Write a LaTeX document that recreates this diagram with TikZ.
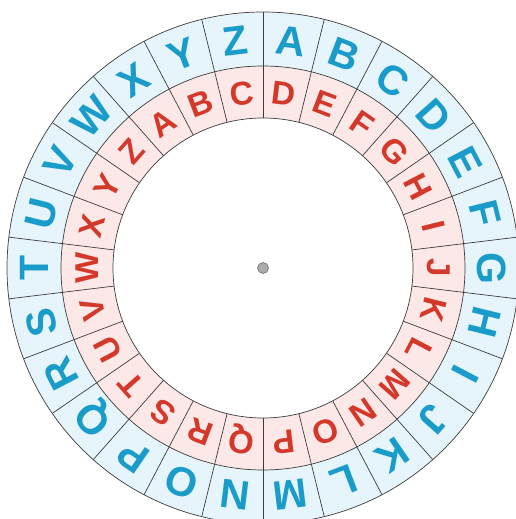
\documentclass[tikz,border=0pt]{standalone}
\usepackage{fontspec}
\setmainfont{Liberation Sans}
\definecolor{outerfill}{HTML}{E6F4FB}
\definecolor{innerfill}{HTML}{FCE8E6}
\definecolor{letterblue}{HTML}{1A9CCA}
\definecolor{letterred}{HTML}{D4382A}
\definecolor{ringgray}{HTML}{3C3C3C}
\begin{document}
\begin{tikzpicture}[x=1pt,y=1pt,
  ringline/.style={draw=ringgray, line width=0.7pt},
  outerletter/.style={text=letterblue, font=\bfseries\fontsize{41}{41}\selectfont, inner sep=0pt, text height=29.4pt, text depth=0pt},
  innerletter/.style={text=letterred, font=\bfseries\fontsize{33}{33}\selectfont, inner sep=0pt, text height=23.6pt, text depth=0pt},
  hubdot/.style={circle, fill=gray!65, draw=gray!85!black, line width=0.6pt, minimum size=11pt, inner sep=0pt}]
\useasboundingbox (-263,-251) rectangle (252,268);
\fill[outerfill] (0,0) circle (256);
\fill[innerfill] (0,0) circle (202);
\fill[white] (0,0) circle (150);
\draw[ringline] (0,0) circle (256) (0,0) circle (202) (0,0) circle (150);
\foreach \k in {0,...,25} {
  \pgfmathsetmacro\b{90-\k*360/26}
  \draw[ringline] (\b:150) -- (\b:256);
}
\foreach \L [count=\k from 0] in {A,B,C,D,E,F,G,H,I,J,K,L,M,N,O,P,Q,R,S,T,U,V,W,X,Y,Z} {
  \pgfmathsetmacro\a{90-180/26-\k*360/26}
  \pgfmathsetmacro\r{\a-90}
  \node[outerletter, rotate=\r] (o\L) at (\a:229) {\L};
}
\foreach \L [count=\k from 0] in {D,E,F,G,H,I,J,K,L,M,N,O,P,Q,R,S,T,U,V,W,X,Y,Z,A,B,C} {
  \pgfmathsetmacro\a{90-180/26-\k*360/26}
  \pgfmathsetmacro\r{\a-90}
  \node[innerletter, rotate=\r] (i\L) at (\a:176) {\L};
}
\node[hubdot] (hub) at (0,0) {};
\end{tikzpicture}
\end{document}
